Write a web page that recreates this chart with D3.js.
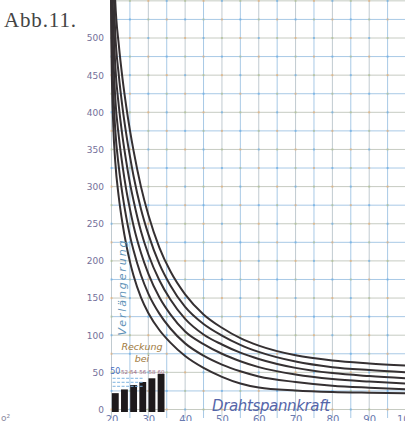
<!DOCTYPE html>
<html><head><meta charset="utf-8">
<script src="https://cdn.jsdelivr.net/npm/d3@7/dist/d3.min.js"></script>
<style>body{margin:0;background:#fff}svg{display:block}</style>
</head><body>
<svg id="c" width="405" height="421"></svg>
<script>
// ---- data ----
const title = "Abb.11.";
const xLabel = "Drahtspannkraft";
const yLabel = "Verlängerung";
const xTicks = [20, 30, 40, 50, 60, 70, 80, 90, 100];
const yTicks = [0, 50, 100, 150, 200, 250, 300, 350, 400, 450, 500];
const xs = [19.7, 20, 20.5, 21, 22, 23, 24, 25, 26, 28, 30, 33, 36, 40, 45, 50, 55, 60, 70, 80, 90, 100];
const curve1 = [640, 480, 380, 335, 285, 250, 222, 199, 180, 151, 130, 107, 90, 72, 56, 44, 35, 29.5, 25.5, 23.5, 22.6, 22];
const curve2 = [680, 524, 428, 378, 326, 289, 259, 234, 214, 181, 156, 129, 109, 89, 72.5, 60.5, 51.5, 44.5, 37, 32, 29.3, 27.2];
const curve3 = [720, 568, 476, 421, 367, 328, 296, 270, 247, 211, 183, 151, 128, 105, 88, 75, 65, 57, 47, 41, 37.6, 35];
const curve4 = [760, 612, 524, 465, 408, 367, 334, 305, 281, 240, 209, 174, 148, 122, 101, 87.5, 76.5, 68, 56, 49, 45, 42];
const curve5 = [800, 656, 572, 508, 449, 406, 371, 341, 314, 270, 236, 196, 167, 138, 115, 99.5, 87, 77.5, 64.5, 57, 53, 50];
const curve6 = [840, 700, 620, 551, 490, 445, 408, 376, 348, 300, 262, 218, 186, 155, 128, 110, 96, 86, 73, 66, 62, 59];
const curves = [curve1, curve2, curve3, curve4, curve5, curve6];
const barLabels = ["50", "52", "54", "56", "58", "60"];
const barValues = [22, 27, 33, 37, 42, 48];
const barTitle1 = "Reckung";
const barTitle2 = "bei";

// ---- drawing ----
const svg = d3.select("#c");
const x = d3.scaleLinear().domain([20, 100]).range([111.5, 406]);
const y = d3.scaleLinear().domain([0, 500]).range([409.5, 38]);

svg.append("defs").append("clipPath").attr("id", "clip")
  .append("rect").attr("x", 104).attr("y", 0).attr("width", 301).attr("height", 412);

// grid
const g = svg.append("g");
const vx = d3.range(20, 101, 5);
const hy = d3.range(0, 551, 25);
g.selectAll("line.v").data(vx).join("line")
  .attr("x1", d => x(d)).attr("x2", d => x(d))
  .attr("y1", 0).attr("y2", 418)
  .attr("stroke", (d, i) => i % 2 ? "#a8c9e6" : "#c0cad0").attr("stroke-width", 1);
g.selectAll("line.h").data(hy).join("line")
  .attr("x1", x(20)).attr("x2", 405)
  .attr("y1", d => y(d)).attr("y2", d => y(d))
  .attr("stroke", (d, i) => i % 2 ? "#a8c9e6" : "#c6cbc2").attr("stroke-width", 1);
// intersection dots
const pts = [];
vx.forEach((a, i) => hy.forEach((b, j) => pts.push([a, b, i, j])));
g.selectAll("rect.dot").data(pts).join("rect")
  .attr("x", d => x(d[0]) - 1).attr("y", d => y(d[1]) - 1)
  .attr("width", 2).attr("height", 2)
  .attr("fill", d => (d[2] + d[3]) % 3 === 0 ? "#e6a868" : ((d[2] + d[3]) % 3 === 1 ? "#5aa6e6" : "#a8bc88"))
  .attr("opacity", 0.6);

// bars
const band = d3.scaleBand().domain(barLabels).range([x(20.1), x(34.4)]).paddingInner(0.25);
svg.append("g").selectAll("rect").data(barValues).join("rect")
  .attr("x", (d, i) => band(barLabels[i]))
  .attr("y", d => y(d))
  .attr("width", band.bandwidth())
  .attr("height", d => y(0) + 2.5 - y(d))
  .attr("fill", "#1e1a1c");
// small table lines
svg.append("g").selectAll("line").data([0, 1, 2]).join("line")
  .attr("x1", x(20.3)).attr("x2", x(28.5))
  .attr("y1", (d, i) => y(42) + i * 4).attr("y2", (d, i) => y(42) + i * 4)
  .attr("stroke", "#7db3e0").attr("stroke-width", 1).attr("stroke-dasharray", "3,1.5");
svg.append("g").selectAll("text").data(barLabels).join("text")
  .attr("x", d => band(d) + band.bandwidth() / 2)
  .attr("y", y(50) + 2)
  .attr("text-anchor", "middle")
  .attr("font-family", "DejaVu Sans").attr("font-size", (d, i) => i === 0 ? 8 : 5.5)
  .attr("fill", (d, i) => i === 0 ? "#4a6fc0" : "#9a6a8a")
  .text(d => d);
svg.append("text").attr("x", 142).attr("y", 350).attr("text-anchor", "middle")
  .attr("font-family", "DejaVu Sans").attr("font-style", "italic").attr("font-size", 9.5)
  .attr("fill", "#a07a40").text(barTitle1);
svg.append("text").attr("x", 142).attr("y", 362).attr("text-anchor", "middle")
  .attr("font-family", "DejaVu Sans").attr("font-style", "italic").attr("font-size", 9.5)
  .attr("fill", "#a07a40").text(barTitle2);

// curves
const line = d3.line().x((d, i) => x(xs[i])).y(d => y(d)).curve(d3.curveMonotoneX);
svg.append("g").attr("clip-path", "url(#clip)").selectAll("path").data(curves).join("path")
  .attr("d", d => line(d))
  .attr("fill", "none").attr("stroke", "#353032").attr("stroke-width", 2);

// axes
const ya = svg.append("g").attr("transform", "translate(106,0)")
  .call(d3.axisLeft(y).tickValues(yTicks).tickSize(0).tickPadding(2));
ya.select(".domain").remove();
ya.selectAll("text").attr("font-family", "DejaVu Sans").attr("font-size", 9).attr("fill", "#74709a");
const xa = svg.append("g").attr("transform", "translate(0,413)")
  .call(d3.axisBottom(x).tickValues(xTicks).tickSize(0).tickPadding(3));
xa.select(".domain").remove();
xa.selectAll("text").attr("font-family", "DejaVu Sans").attr("font-size", 10).attr("fill", "#6a7ab0");

// labels
svg.append("text").attr("x", 4).attr("y", 27)
  .attr("font-family", "Liberation Serif").attr("font-size", 21).attr("fill", "#444")
  .attr("textLength", 72).text(title);
svg.append("text").attr("transform", "translate(126,288) rotate(-90)")
  .attr("text-anchor", "middle")
  .attr("font-family", "DejaVu Sans").attr("font-style", "italic").attr("font-size", 11)
  .attr("fill", "#5f93b8").attr("textLength", 95).text(yLabel);
svg.append("text").attr("x", 212).attr("y", 411)
  .attr("font-family", "DejaVu Sans").attr("font-style", "italic").attr("font-size", 15)
  .attr("fill", "#5566aa").attr("textLength", 118).text(xLabel);
svg.append("text").attr("x", 1).attr("y", 421)
  .attr("font-family", "DejaVu Sans").attr("font-size", 9).attr("fill", "#8a8aa0").text("o²");
</script>
</body></html>
